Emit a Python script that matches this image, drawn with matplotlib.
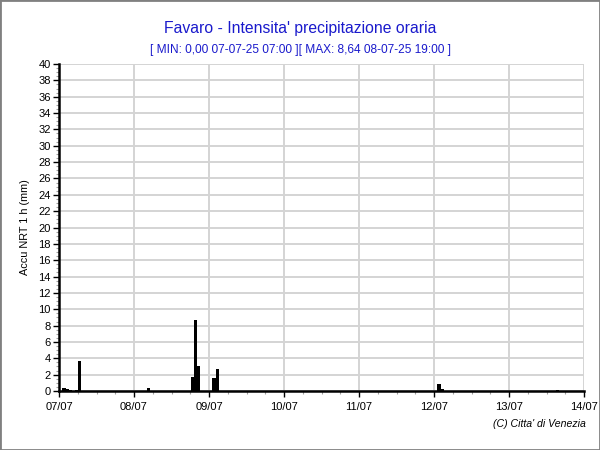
import matplotlib.pyplot as plt
from matplotlib.ticker import MultipleLocator
from matplotlib.patches import Rectangle

plt.rcParams['font.family'] = ['Liberation Sans', 'DejaVu Sans']

# hours since 07/07 00:00 and hourly rain (mm)
hours = [1, 2, 3, 5, 6, 28, 42, 43, 44, 49, 50, 121, 122, 159]
values = [0.35, 0.2, 0.15, 0.15, 3.7, 0.4, 1.7, 8.64, 3.05, 1.6, 2.7, 0.85, 0.2, 0.12]
day_labels = ['07/07', '08/07', '09/07', '10/07', '11/07', '12/07', '13/07', '14/07']

fig = plt.figure(figsize=(6, 4.5), dpi=100)
ax = fig.add_axes([59 / 600, 1 - 391 / 450, 525 / 600, 327 / 450])

ax.bar([h + 0.6 for h in hours], values, width=1.0, color='black', zorder=3)

ax.set_xlim(0, 168)
ax.set_ylim(0, 40)
ax.set_xticks([i * 24 for i in range(len(day_labels))])
ax.set_xticklabels(day_labels)
ax.xaxis.set_minor_locator(MultipleLocator(6))
ax.yaxis.set_major_locator(MultipleLocator(2))
ax.yaxis.set_minor_locator(MultipleLocator(0.5))

ax.grid(True, which='major', color='#d4d4d4', linewidth=1.4, zorder=0)
ax.tick_params(which='major', labelsize=8, length=4, width=1, color='black', pad=2)
ax.tick_params(axis='x', which='major', pad=4)
ax.tick_params(which='minor', length=2.5, width=0.8, color='#a0a0a0')
for s in ['top', 'right']:
    ax.spines[s].set_visible(False)
for s in ['left', 'bottom']:
    ax.spines[s].set_linewidth(1.8)
    ax.spines[s].set_zorder(4)

ax.set_ylabel('Accu NRT 1 h (mm)', fontsize=7.8, labelpad=6)

fig.text(0.5, 1 - 28 / 450, "Favaro - Intensita' precipitazione oraria",
         ha='center', va='center', fontsize=11.3, color='#1a1acc')
fig.text(0.5, 1 - 50 / 450, "[ MIN: 0,00 07-07-25 07:00 ][ MAX: 8,64 08-07-25 19:00 ]",
         ha='center', va='center', fontsize=8.6, color='#1a1acc')
fig.text(586 / 600, 1 - 424 / 450, "(C) Citta' di Venezia",
         ha='right', va='center', fontsize=7.6, style='italic')

fig.patches.append(Rectangle((0, 0), 1, 1, transform=fig.transFigure, fill=False,
                             edgecolor='#808080', linewidth=2))

fig.savefig('out.png', dpi=100)
